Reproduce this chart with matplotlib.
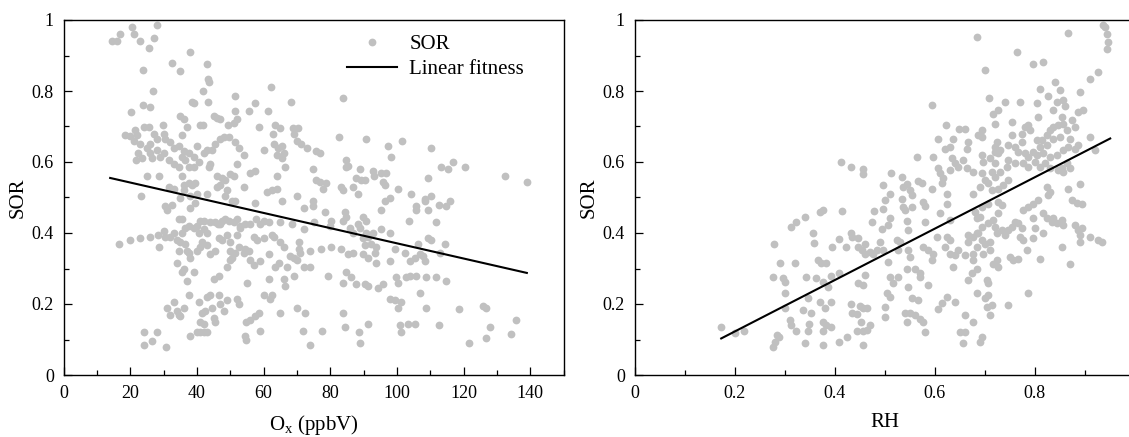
import matplotlib
matplotlib.use('Agg')
import matplotlib.pyplot as plt
import numpy as np
from matplotlib.ticker import MultipleLocator, FuncFormatter
from matplotlib.lines import Line2D

plt.rcParams['font.family'] = ['Liberation Serif', 'DejaVu Serif']
plt.rcParams['mathtext.fontset'] = 'custom'
plt.rcParams['mathtext.rm'] = 'Liberation Serif'

# ---------------- left panel: SOR vs Ox (ppbV) ----------------
ox_top = [14.5, 16.0, 17.0, 20.5, 21.2, 23.0, 25.5, 27.0, 28.0, 23.8,
          32.5, 35.0, 38.0, 43.0, 43.2, 43.7, 41.8, 26.8, 20.2, 23.7,
          25.8, 38.5, 39.2, 43.2, 51.5, 51.5, 55.7, 57.3, 61.4, 62.2,
          68.3, 35.0, 36.0, 37.0, 41.0, 41.8, 45.0, 46.0, 47.0, 49.3,
          51.0, 52.0, 58.7, 63.5, 65.0, 68.8, 70.3]
sor_top = [.94, .94, .96, .98, .96, .94, .92, .95, .985, .86,
           .88, .855, .91, .875, .835, .825, .80, .80, .74, .76,
           .755, .77, .765, .77, .785, .745, .745, .765, .745, .81,
           .77, .73, .72, .70, .705, .705, .73, .725, .72, .705,
           .71, .72, .70, .705, .695, .695, .695]

ox_mid = [18.5, 19.8, 21.5, 22.0, 24.0, 25.5, 27.0, 29.8, 30.2, 21.0,
          23.0, 25.0, 26.0, 28.0, 30.5, 32.0, 33.0, 34.5, 35.5, 36.2,
          37.5, 39.0, 40.0, 42.0, 43.0, 44.5, 45.5, 47.0, 48.0, 49.5,
          51.5, 52.5, 54.0, 56.0, 57.3, 60.0, 62.7, 63.0, 64.2, 65.5,
          66.0, 69.0, 70.0, 71.2, 73.0, 74.8, 21.7, 22.2, 23.5, 26.0,
          26.5, 28.0, 29.0, 30.0, 31.5, 33.0, 34.5, 35.5, 36.5, 37.5,
          39.0, 40.5, 43.7, 44.0, 46.0, 47.5, 48.5, 50.0, 51.0, 52.0,
          64.0, 65.5, 66.5, 64.0, 25.0, 28.5, 23.2]
sor_mid = [.675, .673, .69, .675, .70, .70, .68, .705, .68, .66,
           .65, .64, .65, .665, .665, .655, .64, .645, .675, .63,
           .625, .615, .645, .625, .635, .635, .65, .665, .67, .67,
           .655, .64, .62, .57, .575, .635, .68, .65, .64, .645,
           .625, .68, .66, .65, .64, .58, .605, .625, .61, .625,
           .61, .635, .615, .625, .605, .595, .585, .615, .605, .585,
           .585, .60, .585, .595, .56, .555, .55, .565, .56, .595,
           .62, .61, .585, .56, .56, .56, .505]

ox_line = [35.5, 36.0, 37.5, 38.5, 39.5, 31.5, 33.0, 35.0, 36.2, 38.0,
           40.0, 43.0, 46.0, 47.0, 48.5, 49.0, 50.5, 51.5, 54.0, 57.5,
           61.0, 62.5, 64.0, 65.5, 70.0, 72.0, 30.5, 31.0, 32.5, 39.5,
           37.8, 34.5, 35.5, 41.0, 42.0, 44.0, 45.5, 47.0, 48.5, 49.5,
           51.0, 52.0, 53.0, 54.5, 56.0, 57.8, 59.0, 60.2, 61.5, 65.0,
           68.5, 72.0, 74.8]
sor_line = [.56, .535, .54, .535, .54, .53, .525, .50, .52, .505,
            .51, .51, .53, .535, .505, .52, .49, .49, .53, .485,
            .515, .52, .525, .49, .505, .47, .475, .465, .48, .485,
            .47, .44, .44, .435, .435, .43, .43, .425, .44, .435,
            .43, .44, .42, .425, .425, .44, .425, .435, .43, .43,
            .425, .41, .49]

ox_band = [16.5, 19.8, 23.0, 25.8, 28.3, 28.5, 30.0, 30.5, 32.0, 33.0,
           34.0, 35.0, 34.5, 35.5, 36.5, 37.0, 37.5, 38.0, 36.5, 37.5,
           39.0, 40.0, 40.5, 42.0, 43.0, 40.0, 41.0, 41.5, 43.0, 44.0,
           45.5, 46.5, 47.5, 49.0, 50.0, 50.0, 51.5, 52.5, 54.5, 55.5,
           56.0, 57.0, 46.3, 47.5, 50.0, 50.5, 52.0, 53.0, 57.0, 58.0,
           60.0, 61.5, 62.5, 63.0, 63.5, 64.5, 65.0, 66.0, 67.0, 68.0,
           69.0, 70.0, 71.0, 72.0, 73.8, 70.5, 70.5, 74.0, 69.0, 66.0,
           66.5, 61.5, 59.0, 54.0,
           34.0, 35.5, 36.2, 39.0, 37.0, 45.0, 46.5, 49.0, 55.0, 60.0]
sor_band = [.37, .38, .385, .39, .395, .36, .405, .39, .39, .40,
            .38, .375, .35, .40, .37, .35, .345, .33, .415, .42,
            .415, .42, .40, .41, .40, .35, .36, .375, .365, .34,
            .35, .385, .38, .395, .375, .35, .345, .36, .355, .35,
            .325, .31, .425, .435, .325, .33, .395, .415, .39, .38,
            .385, .34, .395, .39, .305, .315, .375, .36, .305, .335,
            .33, .325, .345, .305, .305, .375, .355, .35, .28, .27,
            .25, .27, .32, .345,
            .315, .29, .30, .29, .265, .27, .28, .305, .26, .225]

ox_low = [31.0, 32.0, 33.0, 34.0, 34.5, 35.0, 36.0, 37.5, 40.5, 41.5,
          42.5, 43.0, 44.0, 44.5, 45.0, 45.5, 46.5, 47.0, 48.0, 49.0,
          52.0, 52.5, 41.0, 42.0, 40.0, 41.0, 42.0, 43.0, 37.8, 54.8,
          56.0, 57.5, 58.5, 59.0, 61.8, 62.5, 65.0, 70.0, 72.5, 71.8,
          54.5, 54.8, 24.0, 28.0, 24.0, 26.5, 30.8, 74.0]
sor_low = [.19, .17, .205, .18, .17, .165, .19, .225, .205, .175,
           .18, .22, .225, .19, .16, .15, .225, .20, .18, .21,
           .215, .20, .15, .145, .12, .12, .12, .12, .11, .15,
           .155, .165, .175, .125, .215, .225, .175, .19, .175, .125,
           .11, .10, .12, .12, .085, .095, .08, .085]

ox_high = [83.8, 82.5, 90.8, 97.3, 101.6, 98.1, 110.1, 75.8, 76.8, 84.8,
           85.3, 84.6, 88.8, 92.8, 93.0, 95.3, 96.8, 95.8, 96.3, 87.8,
           89.3, 90.3, 75.8, 76.8, 78.8, 77.8, 83.3, 83.8, 86.8, 88.3,
           100.3, 104.3, 108.3, 110.3, 109.3, 113.3, 115.3, 116.8, 120.3, 132.3,
           139.0, 74.8, 78.3, 84.3, 84.8, 83.8, 85.8, 88.3, 89.8, 90.8,
           88.8, 90.8, 95.3, 97.8, 96.3, 103.6, 105.6, 105.8, 109.3, 108.3,
           112.6, 114.8, 115.8, 111.8, 75.0, 79.8, 80.3, 86.8, 89.8, 91.3,
           92.8, 95.3, 97.8, 92.3, 93.8, 90.3, 77.3, 80.3, 83.3, 85.3,
           86.8, 89.8, 91.3, 93.3, 93.8, 97.8, 99.3, 102.3, 103.8, 105.3,
           106.8, 107.8, 108.3, 106.3, 109.3, 110.3, 114.3, 112.8, 79.3, 84.8,
           86.3, 83.8, 87.8, 90.3, 91.3, 94.3, 95.8, 99.8, 100.3, 102.8,
           103.8, 105.8, 108.8, 111.8, 114.8, 97.8, 99.3, 101.3, 100.3, 106.8,
           108.8, 118.6, 125.8, 126.8, 83.8, 84.3, 91.3, 88.6, 88.8, 77.6,
           100.8, 101.3, 103.3, 105.3, 112.6, 127.8, 126.8, 135.6, 134.3, 121.6]
sor_high = [.78, .67, .665, .645, .66, .615, .64, .63, .625, .605,
            .59, .585, .58, .575, .56, .57, .57, .545, .535, .555,
            .55, .55, .55, .545, .54, .525, .53, .52, .53, .51,
            .525, .51, .495, .505, .555, .585, .58, .60, .585, .56,
            .545, .475, .46, .46, .445, .435, .415, .425, .445, .435,
            .415, .40, .465, .50, .49, .435, .475, .465, .465, .49,
            .48, .475, .49, .43, .43, .42, .435, .40, .385, .39,
            .40, .41, .40, .37, .36, .365, .355, .36, .355, .34,
            .345, .34, .33, .345, .315, .32, .355, .345, .32, .33,
            .34, .335, .32, .37, .385, .38, .37, .345, .28, .29,
            .275, .26, .255, .255, .25, .245, .255, .275, .26, .275,
            .28, .28, .275, .275, .265, .215, .21, .205, .19, .23,
            .19, .185, .195, .19, .175, .135, .145, .12, .09, .125,
            .14, .12, .145, .145, .14, .135, .105, .155, .115, .09]

# fitted line as drawn (Ox range, slope, intercept)
ox_fit_range = [14, 139]
ox_fit_coef = [-0.00214, 0.585]

# ---------------- right panel: SOR vs RH ----------------
rh_a = [.172, .200, .218, .277, .280, .285, .289, .279, .277, .290,
        .297, .300, .300, .300, .310, .313, .323, .313, .323, .341,
        .321, .343, .347, .337, .349, .347, .341, .357, .358, .371,
        .377, .367, .373, .383, .363, .377, .387, .370, .380, .393,
        .353, .377, .383, .393, .377, .377, .395, .392, .409, .409,
        .413, .414, .409]
sor_a = [.136, .117, .125, .080, .094, .113, .108, .370, .277, .316,
         .272, .263, .230, .190, .155, .140, .125, .417, .430, .445,
         .316, .277, .216, .183, .145, .125, .089, .400, .372, .460,
         .464, .324, .316, .316, .272, .263, .249, .206, .190, .206,
         .175, .150, .140, .136, .125, .084, .360, .280, .286, .382,
         .600, .462, .094]

rh_b = [.433, .456, .456, .474, .479, .423, .433, .434, .447, .447,
        .454, .461, .461, .471, .484, .461, .447, .457, .433, .434,
        .444, .451, .457, .465, .452, .444, .456, .465, .471, .456,
        .425]
sor_b = [.585, .58, .565, .43, .463, .36, .40, .388, .385, .36,
         .352, .369, .341, .347, .352, .282, .26, .254, .20, .176,
         .173, .194, .188, .188, .15, .125, .125, .127, .141, .085,
         .106]

rh_c = [.477, .497, .507, .491, .497, .511, .501, .497, .512, .494,
        .511, .507, .524, .534, .537, .544, .551, .554, .534, .537,
        .541, .544, .567, .574, .577, .581, .554, .565, .594, .597,
        .607, .611, .614, .617, .623, .607, .621, .631, .637, .649,
        .661, .667, .634, .641, .647, .657, .631, .624, .624, .594,
        .611, .631, .581, .547, .531, .527, .547, .551, .544, .561,
        .571, .571, .587, .577, .587, .597, .594, .604, .624, .631,
        .621, .631, .641, .647, .661, .667, .637, .624, .614, .607,
        .641, .511, .517, .527, .504, .511, .501, .501, .547, .554,
        .567, .541, .551, .561, .571, .577, .581, .544, .651, .661,
        .657, .661, .677, .687, .684, .664, .664, .677, .677, .684,
        .684, .677, .667, .677, .677, .674, .667, .684, .684]
sor_c = [.342, .352, .319, .375, .535, .511, .493, .469, .568, .41,
         .441, .422, .38, .558, .53, .539, .52, .507, .497, .474,
         .464, .434, .547, .54, .488, .476, .474, .613, .76, .613,
         .582, .568, .54, .554, .704, .666, .638, .643, .666, .694,
         .694, .657, .61, .596, .586, .605, .577, .511, .483, .525,
         .455, .436, .432, .408, .375, .352, .352, .333, .30, .30,
         .286, .277, .253, .361, .352, .342, .324, .389, .389, .38,
         .361, .342, .338, .352, .338, .375, .305, .22, .202, .185,
         .206, .277, .258, .277, .23, .22, .192, .164, .249, .216,
         .211, .175, .174, .169, .159, .15, .122, .15, .122, .122,
         .089, .169, .15, .675, .953, .638, .582, .572, .511, .441,
         .399, .389, .394, .342, .324, .286, .267, .30, .23]

rh_d = [.867, .937, .941, .944, .947, .944, .764, .701, .797, .817,
        .927, .910, .841, .811, .851, .891, .709, .741, .771, .804,
        .826, .844, .857, .861, .837, .887, .897, .717, .727, .807,
        .854, .874, .881, .910, .921, .694, .694, .721, .754, .754,
        .774, .781, .787, .791, .831, .837, .847, .857, .864, .824,
        .837, .851, .871, .814, .824, .724, .721, .727, .721, .731,
        .747, .761, .767, .774, .781, .787, .797, .804, .811, .817,
        .831, .844, .857, .867, .881, .887, .804, .694, .697, .711,
        .721, .714, .694, .701, .707, .721, .731, .744, .761, .747,
        .777, .787, .801, .811, .821, .831, .847, .854, .864, .871,
        .857, .747, .737, .727, .691, .714, .824, .831, .827, .867,
        .891, .874, .884, .894, .681, .694, .707, .727, .734, .727,
        .691, .694, .707, .717, .721, .724, .734, .741, .747, .754,
        .761, .767, .774, .771, .777, .777, .787, .797, .807, .797,
        .801, .797, .784, .817, .824, .834, .844, .854, .857, .837,
        .817, .811, .854, .871, .881, .887, .894, .891, .891, .910,
        .927, .934, .687, .694, .684, .701, .711, .697, .711, .727,
        .724, .717, .751, .757, .767, .704, .707, .707, .701, .714,
        .711, .704, .787, .746, .694, .691]
sor_d = [.963, .985, .98, .96, .937, .918, .91, .86, .877, .882,
         .854, .835, .826, .807, .804, .797, .779, .769, .769, .765,
         .785, .769, .774, .757, .746, .741, .746, .736, .746, .727,
         .727, .718, .699, .671, .633, .69, .671, .708, .713, .675,
         .68, .699, .704, .69, .69, .699, .704, .708, .69, .675,
         .666, .671, .666, .662, .647, .657, .643, .624, .628, .633,
         .647, .643, .628, .657, .624, .614, .628, .619, .643, .624,
         .614, .619, .633, .643, .638, .647, .662, .619, .60, .61,
         .596, .572, .568, .549, .54, .558, .572, .586, .596, .605,
         .596, .586, .60, .586, .596, .582, .577, .582, .596, .582,
         .572, .549, .535, .525, .53, .521, .53, .516, .507, .525,
         .539, .492, .485, .483, .46, .474, .483, .488, .478, .455,
         .446, .417, .427, .436, .417, .399, .408, .394, .408, .417,
         .432, .427, .413, .389, .38, .464, .474, .483, .492, .441,
         .413, .385, .352, .455, .441, .432, .427, .436, .422, .441,
         .399, .328, .361, .314, .422, .408, .413, .394, .375, .389,
         .38, .375, .399, .38, .361, .37, .375, .342, .352, .305,
         .324, .314, .333, .324, .328, .267, .258, .225, .216, .197,
         .169, .192, .23, .197, .108, .094]

rh_fit_range = [0.173, 0.951]
rh_fit_coef = [0.724, -0.0223]

ox = ox_top + ox_mid + ox_line + ox_band + ox_low + ox_high
sor_left = sor_top + sor_mid + sor_line + sor_band + sor_low + sor_high
rh = rh_a + rh_b + rh_c + rh_d
sor_right = sor_a + sor_b + sor_c + sor_d

dot_color = '#c0c0c0'
fmt = FuncFormatter(lambda v, p: '%g' % round(v, 3))

fig = plt.figure(figsize=(11.29, 4.37), dpi=100)
ax1 = fig.add_axes([63.5 / 1129, 62 / 437, 500 / 1129, 355 / 437])
ax2 = fig.add_axes([634.7 / 1129, 62 / 437, 500 / 1129, 355 / 437])

ax1.plot(ox, sor_left, 'o', color=dot_color, ms=5.6, mec='none')
fx = np.array(ox_fit_range)
ax1.plot(fx, np.polyval(ox_fit_coef, fx), color='black', lw=1.5)

ax2.plot(rh, sor_right, 'o', color=dot_color, ms=5.6, mec='none')
rx = np.array(rh_fit_range)
ax2.plot(rx, np.polyval(rh_fit_coef, rx), color='black', lw=1.5)

ax1.set_xlim(0, 150)
ax1.xaxis.set_major_locator(MultipleLocator(20))
ax1.xaxis.set_minor_locator(MultipleLocator(10))
ax2.set_xlim(0, 1)
ax2.xaxis.set_major_locator(MultipleLocator(0.2))
ax2.xaxis.set_minor_locator(MultipleLocator(0.1))

for ax in (ax1, ax2):
    ax.set_ylim(0, 1)
    ax.yaxis.set_major_locator(MultipleLocator(0.2))
    ax.yaxis.set_minor_locator(MultipleLocator(0.1))
    ax.xaxis.set_major_formatter(fmt)
    ax.yaxis.set_major_formatter(fmt)
    ax.tick_params(which='both', direction='in', top=False, right=False,
                   width=0.9, labelsize=13, pad=7)
    ax.tick_params(which='major', length=5.5)
    ax.tick_params(which='minor', length=3.5)
    for s in ax.spines.values():
        s.set_linewidth(1.0)
    ax.set_ylabel('SOR', fontsize=15, labelpad=3)

ax1.set_xlabel('$\\mathrm{O_x}$ (ppbV)', fontsize=15, labelpad=8)
ax2.set_xlabel('RH', fontsize=15, labelpad=8)

handles = [Line2D([], [], marker='o', ls='none', color=dot_color, ms=5.6, mec='none'),
           Line2D([], [], color='black', lw=1.5)]
ax1.legend(handles, ['SOR', 'Linear fitness'], loc='upper left',
           bbox_to_anchor=(0.529, 1.011), frameon=False, fontsize=15,
           handlelength=2.4, numpoints=1, labelspacing=0.25, handletextpad=0.6)

fig.savefig('out.png', dpi=100)
